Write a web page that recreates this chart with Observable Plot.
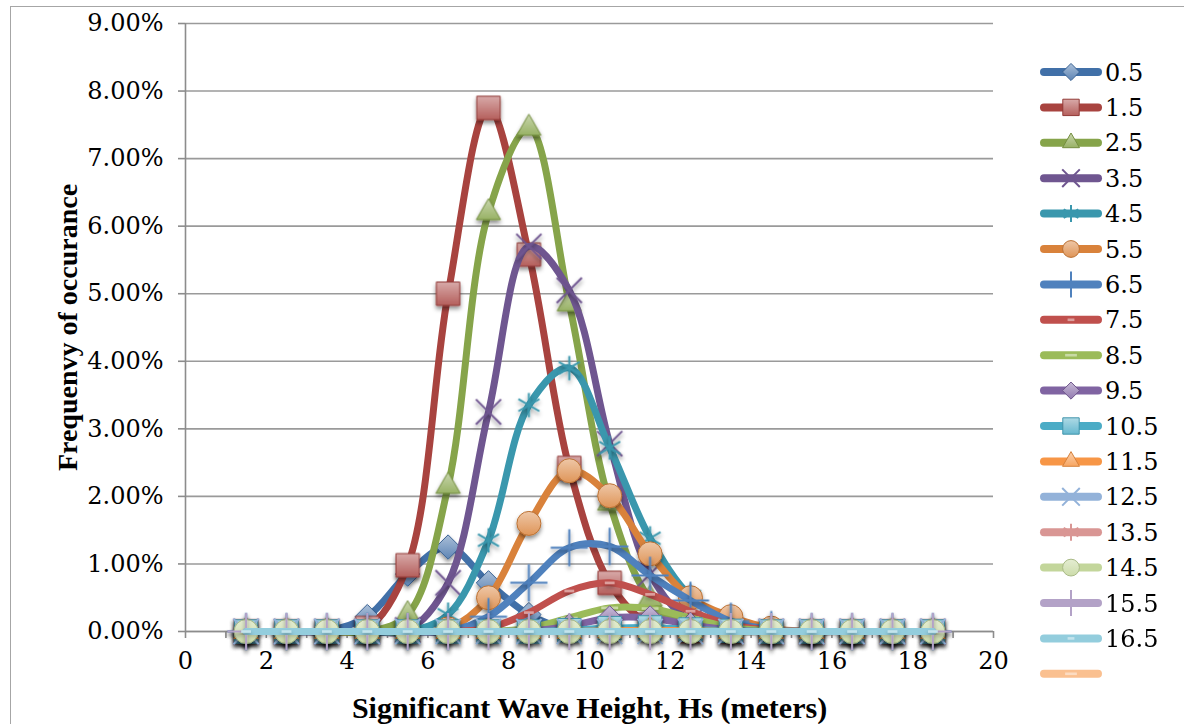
<!DOCTYPE html>
<html>
<head>
<meta charset="utf-8">
<script src="https://cdn.jsdelivr.net/npm/d3@7"></script>
<script src="https://cdn.jsdelivr.net/npm/@observablehq/plot@0.6"></script>
<style>
  html, body { margin: 0; padding: 0; background: #fff; }
  #wrap { position: relative; width: 1184px; height: 724px; overflow: hidden; }
  #border { position: absolute; left: 10px; top: 6px; width: 1180px; height: 730px; border: 1.5px solid #a6a6a6; box-sizing: border-box; }
  #chart { position: absolute; left: 0; top: 0; }
  #legend { position: absolute; left: 1034px; top: 50px; }
</style>
</head>
<body>
<div id="wrap">
  <div id="border"></div>
  <div id="chart"></div>
  <div id="legend"></div>
</div>
<svg width="0" height="0" style="position:absolute">
  <defs id="defs"></defs>
</svg>
<script>
// ---------- data ----------
const hs = [1.5, 2.5, 3.5, 4.5, 5.5, 6.5, 7.5, 8.5, 9.5, 10.5, 11.5, 12.5, 13.5, 14.5, 15.5, 16.5, 17.5, 18.5];
const seriesNames = ["0.5", "1.5", "2.5", "3.5", "4.5", "5.5", "6.5", "7.5", "8.5", "9.5", "10.5", "11.5", "12.5", "13.5", "14.5", "15.5", "16.5", ""];

// frequency of occurrence, percent
const v0_5  = [0, 0, 0.01, 0.22, 0.85, 1.25, 0.72, 0.25, 0.03, 0, 0, 0, 0, 0, 0, 0, 0, 0];
const v1_5  = [0, 0, 0, 0.05, 0.98, 5.0, 7.75, 5.58, 2.42, 0.72, 0.1, 0.01, 0, 0, 0, 0, 0, 0];
const v2_5  = [0, 0, 0, 0, 0.25, 2.15, 6.2, 7.45, 4.85, 1.9, 0.48, 0.05, 0, 0, 0, 0, 0, 0];
const v3_5  = [0, 0, 0, 0, 0.02, 0.72, 3.25, 5.7, 5.05, 2.78, 0.85, 0.15, 0.01, 0, 0, 0, 0, 0];
const v4_5  = [0, 0, 0, 0, 0, 0.25, 1.35, 3.35, 3.9, 2.72, 1.38, 0.52, 0.15, 0.02, 0, 0, 0, 0];
const v5_5  = [0, 0, 0, 0, 0, 0.04, 0.5, 1.6, 2.38, 2.01, 1.15, 0.5, 0.22, 0.05, 0, 0, 0, 0];
const v6_5  = [0, 0, 0, 0, 0, 0, 0.22, 0.72, 1.24, 1.26, 0.83, 0.46, 0.15, 0.03, 0, 0, 0, 0];
const v7_5  = [0, 0, 0, 0, 0, 0, 0.05, 0.28, 0.6, 0.72, 0.55, 0.3, 0.1, 0.02, 0, 0, 0, 0];
const v8_5  = [0, 0, 0, 0, 0, 0, 0, 0.05, 0.2, 0.35, 0.34, 0.2, 0.06, 0.01, 0, 0, 0, 0];
const v9_5  = [0, 0, 0, 0, 0, 0, 0, 0.01, 0.08, 0.2, 0.2, 0.1, 0.02, 0, 0, 0, 0, 0];
const v10_5 = [0, 0, 0, 0, 0, 0, 0, 0, 0.02, 0.05, 0.06, 0.03, 0.01, 0, 0, 0, 0, 0];
const v11_5 = [0, 0, 0, 0, 0, 0, 0, 0, 0, 0.01, 0.02, 0.01, 0, 0, 0, 0, 0, 0];
const v12_5 = [0, 0, 0, 0, 0, 0, 0, 0, 0, 0, 0, 0, 0, 0, 0, 0, 0, 0];
const v13_5 = [0, 0, 0, 0, 0, 0, 0, 0, 0, 0, 0, 0, 0, 0, 0, 0, 0, 0];
const v14_5 = [0, 0, 0, 0, 0, 0, 0, 0, 0, 0, 0, 0, 0, 0, 0, 0, 0, 0];
const v15_5 = [0, 0, 0, 0, 0, 0, 0, 0, 0, 0, 0, 0, 0, 0, 0, 0, 0, 0];
const v16_5 = [0, 0, 0, 0, 0, 0, 0, 0, 0, 0, 0, 0, 0, 0, 0, 0, 0, 0];
const vBlank = [];

const seriesValues = [v0_5, v1_5, v2_5, v3_5, v4_5, v5_5, v6_5, v7_5, v8_5, v9_5, v10_5, v11_5, v12_5, v13_5, v14_5, v15_5, v16_5, vBlank];

const yTicks = [0, 1, 2, 3, 4, 5, 6, 7, 8, 9];
const xTickLabels = [0, 2, 4, 6, 8, 10, 12, 14, 16, 18, 20];
const xMinorTicks = [0, 1, 2, 3, 4, 5, 6, 7, 8, 9, 10, 11, 12, 13, 14, 15, 16, 17, 18, 19, 20];

// ---------- styling ----------
const lineColors = ["#4170A8", "#A8433F", "#86A44A", "#6F5690", "#3A97AD", "#D9823B",
                    "#4F81BD", "#C0504D", "#9BBB59", "#8064A2", "#4BACC6", "#F79646",
                    "#93B2D9", "#D99694", "#C3D69B", "#B3A2C7", "#93CDDD", "#FAC090"];
const markerTypes = ["diamond", "square", "triangle", "times", "asterisk", "circle", "plus", "dash", "longdash",
                     "diamond", "square", "triangle", "times", "asterisk", "circle", "plus", "dash", "longdash"];

const dashSymbol = { draw(ctx, size) { const w = Math.sqrt(size) * 0.55; ctx.rect(-w / 2, -1.3, w, 2.6); } };
const longDashSymbol = { draw(ctx, size) { const w = Math.sqrt(size) * 0.95; ctx.rect(-w / 2, -1.3, w, 2.6); } };

const defs = d3.select("#defs");
function gradientFor(i) {
  const c = d3.color(lineColors[i]);
  const id = "grad" + i;
  if (defs.select("#" + id).empty()) {
    const g = defs.append("linearGradient").attr("id", id).attr("x1", 0).attr("y1", 0).attr("x2", 0).attr("y2", 1);
    g.append("stop").attr("offset", "0%").attr("stop-color", d3.interpolateRgb(c, "#fff")(0.55));
    g.append("stop").attr("offset", "100%").attr("stop-color", d3.interpolateRgb(c, "#fff")(0.15));
  }
  return `url(#${id})`;
}
const shadow = defs.append("filter").attr("id", "shadow").attr("x", "-50%").attr("y", "-50%").attr("width", "200%").attr("height", "200%");
shadow.append("feDropShadow").attr("dx", 0).attr("dy", 3).attr("stdDeviation", 2).attr("flood-color", "#000").attr("flood-opacity", 0.45);

function markerSpec(i, legend) {
  const t = markerTypes[i];
  const base = lineColors[i];
  const dark = d3.color(base).darker(0.4).formatHex();
  const k = legend ? 0.7 : 1;
  switch (t) {
    case "diamond": return { symbol: "diamond2", r: 11 * k, fill: gradientFor(i), stroke: dark, strokeWidth: 1 };
    case "square": return { symbol: "square", r: 13.2 * k, fill: gradientFor(i), stroke: dark, strokeWidth: 1 };
    case "triangle": return { symbol: "triangle", r: 9 * k, fill: gradientFor(i), stroke: dark, strokeWidth: 1 };
    case "circle": return { symbol: "circle", r: 12 * k, fill: gradientFor(i), stroke: dark, strokeWidth: 1 };
    case "times": return { symbol: "times", r: 11.5 * k, fill: "none", stroke: base, strokeWidth: 2 };
    case "asterisk": return { symbol: "asterisk", r: 11.5 * k, fill: "none", stroke: base, strokeWidth: 2 };
    case "plus": return { symbol: "plus", r: 12 * k, fill: "none", stroke: base, strokeWidth: 2 };
    case "dash": return { symbol: dashSymbol, r: 10 * k, fill: d3.interpolateRgb(base, "#fff")(0.45), stroke: "none" };
    case "longdash": return { symbol: longDashSymbol, r: 10 * k, fill: d3.interpolateRgb(base, "#fff")(0.45), stroke: "none" };
  }
}

// ---------- tidy table ----------
const rows = [];
seriesValues.forEach((vals, si) => vals.forEach((v, j) => rows.push({ series: si, name: seriesNames[si], hs: hs[j], freq: v })));

const seriesMarks = seriesValues.flatMap((vals, si) => {
  const data = rows.filter(d => d.series === si);
  if (!data.length) return [];
  const m = markerSpec(si, false);
  return [
    Plot.line(data, { x: "hs", y: "freq", stroke: lineColors[si], strokeWidth: 7, curve: "catmull-rom", strokeLinecap: "round", strokeLinejoin: "round" }),
    Plot.dot(data, { x: "hs", y: "freq", symbol: m.symbol, r: m.r, fill: m.fill, stroke: m.stroke, strokeWidth: m.strokeWidth })
  ];
});

const serif = "'DejaVu Serif', 'Liberation Serif', serif";
const chart = Plot.plot({
  width: 1184,
  height: 724,
  marginLeft: 185,
  marginRight: 191,
  marginTop: 23,
  marginBottom: 93,
  style: { fontFamily: serif, fontSize: "24px", color: "#000", background: "transparent", overflow: "visible" },
  x: { domain: [0, 20] },
  y: { domain: [0, 9] },
  marks: [
    Plot.gridY(yTicks, { stroke: "#9a9a9a", strokeOpacity: 1, strokeWidth: 1.6 }),
    Plot.axisY(yTicks, { tickSize: 7, tickPadding: 15, stroke: "#8c8c8c", strokeWidth: 1.6, tickFormat: d => d.toFixed(2) + "%", label: null, fontSize: 24 }),
    Plot.axisX(xMinorTicks, { tickSize: 7, stroke: "#8c8c8c", strokeWidth: 1.6, tickFormat: () => "", label: null }),
    Plot.axisX(xTickLabels, { tickSize: 0, tickPadding: 20, label: null, fontSize: 24 }),
    Plot.ruleX([0], { stroke: "#8c8c8c", strokeWidth: 1.6 }),
    Plot.ruleY([0], { stroke: "#8c8c8c", strokeWidth: 1.6 }),
    Plot.text(["Significant Wave Height, Hs (meters)"], { frameAnchor: "bottom", dy: 77, fontSize: 30, fontWeight: "bold", fontFamily: "'Liberation Serif', serif", lineAnchor: "middle", textAnchor: "middle" }),
    Plot.text(["Frequenvy of occurance"], { frameAnchor: "left", dx: -117, rotate: -90, fontSize: 28, fontWeight: "bold", fontFamily: "'Liberation Serif', serif", lineAnchor: "middle", textAnchor: "middle" }),
    ...seriesMarks
  ]
});
d3.select(chart).selectAll('g[aria-label="dot"]').attr("filter", "url(#shadow)");
document.getElementById("chart").append(chart);

// ---------- legend ----------
const rowH = 35.4;
const leg = d3.select("#legend").append("svg").attr("width", 150).attr("height", 660)
  .style("overflow", "visible").style("font-family", serif).style("font-size", "24px");
seriesNames.forEach((name, i) => {
  const y = 22 + i * rowH;
  const g = leg.append("g").attr("transform", `translate(0,${y})`);
  g.append("line").attr("x1", 10).attr("x2", 64).attr("y1", 0).attr("y2", 0)
    .attr("stroke", lineColors[i]).attr("stroke-width", 8).attr("stroke-linecap", "round");
  const m = markerSpec(i, true);
  const sym = typeof m.symbol === "string"
    ? { diamond2: d3.symbolDiamond2, square: d3.symbolSquare, triangle: d3.symbolTriangle, circle: d3.symbolCircle, times: d3.symbolTimes, asterisk: d3.symbolAsterisk, plus: d3.symbolPlus }[m.symbol]
    : m.symbol;
  g.append("path").attr("transform", "translate(37,0)")
    .attr("d", d3.symbol(sym, Math.PI * m.r * m.r)())
    .attr("fill", m.fill).attr("stroke", m.stroke).attr("stroke-width", m.strokeWidth || 0);
  g.append("text").attr("x", 71).attr("y", 0).attr("dy", "0.36em").text(name);
});
</script>
</body>
</html>
